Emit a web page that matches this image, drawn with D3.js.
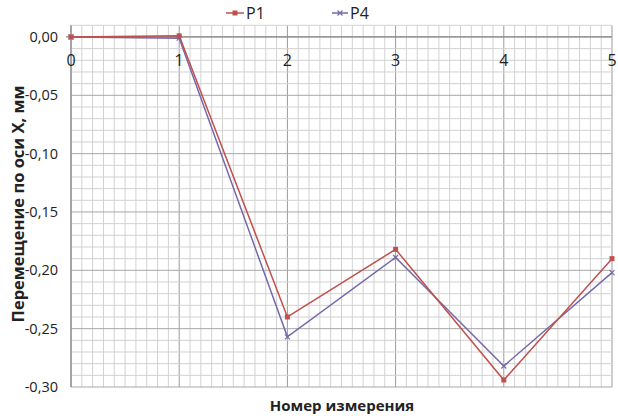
<!DOCTYPE html>
<html>
<head>
<meta charset="utf-8">
<script src="https://cdn.jsdelivr.net/npm/d3@7"></script>
<style>
  body { margin: 0; background: #fff; }
  text { font-family: "Open Sans", "Liberation Sans", sans-serif; fill: #222; }
</style>
</head>
<body>
<script>
// data
var measurements = [0, 1, 2, 3, 4, 5];
var p1 = [0, 0.001, -0.240, -0.182, -0.294, -0.190];
var p4 = [0, -0.001, -0.257, -0.189, -0.282, -0.202];
var yTicks = [0, -0.05, -0.10, -0.15, -0.20, -0.25, -0.30];

var w = 618, h = 416;
var svg = d3.select("body").append("svg")
    .attr("width", w)
    .attr("height", h);

var x = d3.scaleLinear().domain([0, 5]).range([71, 612]);
var y = d3.scaleLinear().domain([-0.30, 0.01]).range([387, 25.3]);

// minor grid
var g = svg.append("g");
d3.range(0, 50.5, 1).forEach(function(i){
    var v = i / 10;
    g.append("line")
        .attr("x1", x(v)).attr("x2", x(v))
        .attr("y1", y(0.01)).attr("y2", y(-0.30))
        .attr("stroke", i % 10 == 0 ? "#9a9a9a" : "#d2d2d2")
        .attr("stroke-width", 1);
});
d3.range(-30, 1.5, 1).forEach(function(i){
    var v = i / 100;
    g.append("line")
        .attr("x1", x(0)).attr("x2", x(5))
        .attr("y1", y(v)).attr("y2", y(v))
        .attr("stroke", i % 5 == 0 ? "#a8a8a8" : "#d2d2d2")
        .attr("stroke-width", 1);
});

// axes lines
svg.append("line").attr("x1", x(0)).attr("x2", x(0))
    .attr("y1", y(0.01)).attr("y2", y(-0.30))
    .attr("stroke", "#8a8a8a").attr("stroke-width", 1.2);
svg.append("line").attr("x1", x(0) - 5).attr("x2", x(5))
    .attr("y1", y(0)).attr("y2", y(0))
    .attr("stroke", "#8a8a8a").attr("stroke-width", 1.2);

// tick labels
var fmt = function(d){ return d3.format(".2f")(d).replace(".", ",").replace("−", "-"); };
svg.selectAll(".ylab").data(yTicks).enter().append("text")
    .attr("x", 58)
    .attr("y", function(d){ return y(d) + 5; })
    .attr("text-anchor", "end")
    .style("font-size", "14.5px")
    .text(fmt);

svg.selectAll(".xlab").data(measurements).enter().append("text")
    .attr("x", function(d){ return x(d); })
    .attr("y", y(0) + 29)
    .attr("text-anchor", "middle")
    .style("font-size", "16px")
    .text(function(d){ return d; });

// series
var line = d3.line()
    .x(function(d, i){ return x(measurements[i]); })
    .y(function(d){ return y(d); });

var red = "#c0504d", blue = "#7468ab";

svg.append("path").datum(p4)
    .attr("d", line).attr("fill", "none")
    .attr("stroke", blue).attr("stroke-width", 1.5);
svg.append("path").datum(p1)
    .attr("d", line).attr("fill", "none")
    .attr("stroke", red).attr("stroke-width", 1.5);

svg.selectAll(".m4").data(p4).enter().append("path")
    .attr("transform", function(d, i){ return "translate(" + x(measurements[i]) + "," + y(d) + ")"; })
    .attr("d", "M-2.5,-2.5L2.5,2.5M-2.5,2.5L2.5,-2.5")
    .attr("stroke", blue).attr("stroke-width", 1.2);
svg.selectAll(".m1").data(p1).enter().append("rect")
    .attr("x", function(d, i){ return x(measurements[i]) - 2.5; })
    .attr("y", function(d){ return y(d) - 2.5; })
    .attr("width", 5).attr("height", 5)
    .attr("fill", red);

// legend
var leg = svg.append("g");
leg.append("line").attr("x1", 226).attr("x2", 244).attr("y1", 13).attr("y2", 13)
    .attr("stroke", red).attr("stroke-width", 1.5);
leg.append("rect").attr("x", 232.5).attr("y", 10.5).attr("width", 5).attr("height", 5).attr("fill", red);
leg.append("text").attr("x", 246).attr("y", 19).style("font-size", "16px").text("P1");
leg.append("line").attr("x1", 332).attr("x2", 348).attr("y1", 13).attr("y2", 13)
    .attr("stroke", blue).attr("stroke-width", 1.5);
leg.append("path").attr("d", "M337.5,10.5L342.5,15.5M337.5,15.5L342.5,10.5")
    .attr("stroke", blue).attr("stroke-width", 1.2);
leg.append("text").attr("x", 350).attr("y", 19).style("font-size", "16px").text("P4");

// axis titles
svg.append("text")
    .attr("transform", "translate(24," + 204 + ") rotate(-90)")
    .attr("text-anchor", "middle")
    .style("font-size", "16.5px").style("font-weight", "bold")
    .text("Перемещение по оси X, мм");
svg.append("text")
    .attr("x", 342).attr("y", 411)
    .attr("text-anchor", "middle")
    .style("font-size", "15px").style("font-weight", "bold")
    .text("Номер измерения");
</script>
</body>
</html>
